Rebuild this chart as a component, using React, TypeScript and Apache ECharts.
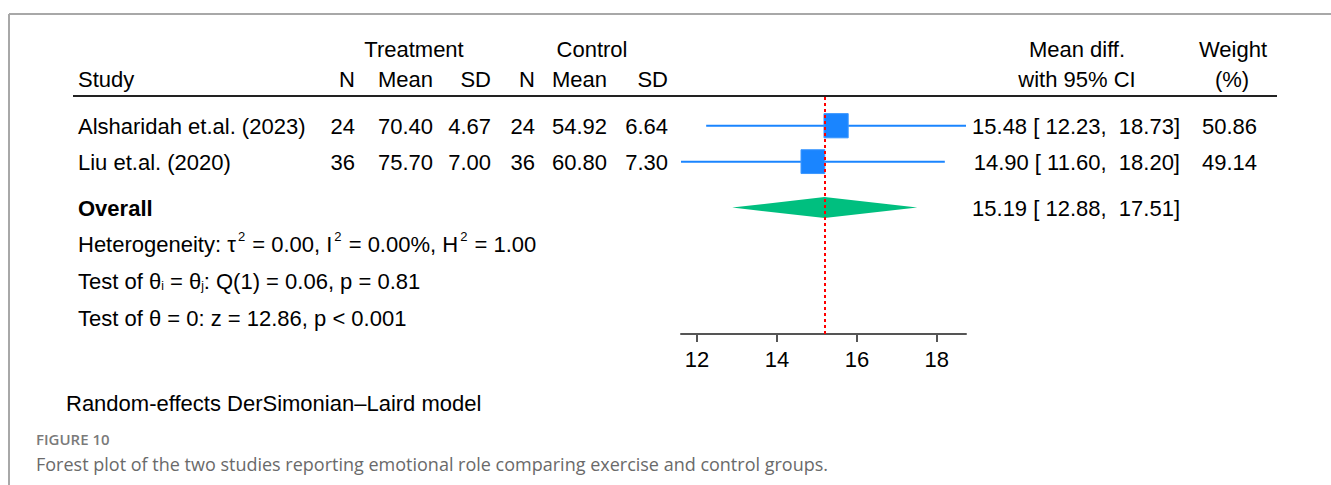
import { useEffect, useRef } from "react";
import * as echarts from "echarts";

// ---- study-level data ----
const studyNames = ["Alsharidah et.al. (2023)", "Liu et.al. (2020)"];
const treatN = [24, 36];
const treatMean = [70.4, 75.7];
const treatSD = [4.67, 7.0];
const ctrlN = [24, 36];
const ctrlMean = [54.92, 60.8];
const ctrlSD = [6.64, 7.3];
const meanDiff = [15.48, 14.9];
const ciLow = [12.23, 11.6];
const ciHigh = [18.73, 18.2];
const weights = [50.86, 49.14];

// ---- pooled estimate ----
const overallEst = 15.19;
const overallLow = 12.88;
const overallHigh = 17.51;

// ---- axis ticks ----
const xTicks = [12, 14, 16, 18];

// ---- text blocks ----
const leftHeaderTop = ["Treatment", "Control"];
const leftHeaderCols = ["N", "Mean", "SD", "N", "Mean", "SD"];
const rightHeaderTop = ["Mean diff.", "Weight"];
const rightHeaderBottom = ["with 95% CI", "(%)"];
const modelNote = "Random-effects DerSimonian\u2013Laird model";
const figureLabel = "FIGURE 10";
const figureCaption =
  "Forest plot of the two studies reporting emotional role comparing exercise and control groups.";

// ---- layout ----
const FONT = "'Liberation Sans', Arial, Helvetica, sans-serif";
const CAPTION_FONT = "'Open Sans', 'Noto Sans', sans-serif";
const FS = 22;
const GRID_LEFT = 681;
const GRID_RIGHT_EDGE = 966;
const GRID_TOP = 97;
const GRID_BOTTOM_EDGE = 334;
const Y_MAX = 6.6; // rows spanned by the plot region
const ROW_PX = (GRID_BOTTOM_EDGE - GRID_TOP) / Y_MAX;
const studyRows = [0.8, 1.8];
const overallRow = 3.08;
const rowPx = (r: number) => GRID_TOP + r * ROW_PX;
const colRight = [355, 433, 491, 535, 607, 668];
const BOX = 24;
const BLUE = "#1a85ff";
const GREEN = "#00bf7f";

const f2 = (v: number) => v.toFixed(2);

function txt(text: string, x: number, y: number, align = "left", extra: any = {}) {
  return {
    type: "text",
    x,
    y,
    silent: true,
    style: {
      text,
      fontSize: FS,
      fontFamily: FONT,
      fill: "#000",
      align,
      verticalAlign: "middle",
      ...extra,
    },
  };
}

function buildGraphics() {
  const g: any[] = [];
  // frame
  g.push({ type: "line", shape: { x1: 9, y1: 14, x2: 1331, y2: 14 }, style: { stroke: "#a8a8a8", lineWidth: 2 } });
  g.push({ type: "line", shape: { x1: 9, y1: 14, x2: 9, y2: 485 }, style: { stroke: "#a8a8a8", lineWidth: 2 } });

  // headers
  g.push(txt(leftHeaderTop[0], 414, 49, "center"));
  g.push(txt(leftHeaderTop[1], 592, 49, "center"));
  g.push(txt("Study", 78, 79));
  leftHeaderCols.forEach((h, i) => g.push(txt(h, colRight[i], 79, "right")));
  g.push(txt(rightHeaderTop[0], 1077, 49, "center"));
  g.push(txt(rightHeaderBottom[0], 1077, 79, "center"));
  g.push(txt(rightHeaderTop[1], 1233, 49, "center"));
  g.push(txt(rightHeaderBottom[1], 1232, 79, "center"));
  g.push({ type: "line", shape: { x1: 73, y1: 96, x2: 1277, y2: 96 }, style: { stroke: "#222", lineWidth: 2 } });

  // study rows
  studyNames.forEach((name, i) => {
    const y = rowPx(studyRows[i]) + 1;
    g.push(txt(name, 78, y));
    const cells = [
      String(treatN[i]),
      f2(treatMean[i]),
      f2(treatSD[i]),
      String(ctrlN[i]),
      f2(ctrlMean[i]),
      f2(ctrlSD[i]),
    ];
    cells.forEach((c, j) => g.push(txt(c, colRight[j], y, "right")));
    g.push(txt(`${f2(meanDiff[i])} [ ${f2(ciLow[i])},  ${f2(ciHigh[i])}]`, 1180, y, "right"));
    g.push(txt(f2(weights[i]), 1257, y, "right"));
  });

  // overall row
  const oy = rowPx(overallRow) + 1;
  g.push(txt("Overall", 78, oy, "left", { fontWeight: "bold" }));
  g.push(txt(`${f2(overallEst)} [ ${f2(overallLow)},  ${f2(overallHigh)}]`, 1180, oy, "right"));

  // heterogeneity statistics
  g.push(
    txt("Heterogeneity: \u03c4{s|2} = 0.00, I{s|2} = 0.00%, H{s|2} = 1.00", 78, 244, "left", {
      lineHeight: 28,
      rich: {
        s: { fontSize: 13, fontFamily: FONT, fill: "#000", verticalAlign: "top", lineHeight: 14, padding: [0, 1, 0, 2] },
      },
    })
  );
  g.push(
    txt("Test of \u03b8{i|i} = \u03b8{i|j}: Q(1) = 0.06, p = 0.81", 78, 281, "left", {
      rich: { i: { fontSize: 12, fontFamily: FONT, fill: "#000", verticalAlign: "bottom" } },
    })
  );
  g.push(txt("Test of \u03b8 = 0: z = 12.86, p < 0.001", 78, 318));

  // notes and caption
  g.push(txt(modelNote, 66, 403));
  g.push(
    txt(figureLabel, 36, 439, "left", {
      fontSize: 15,
      fontWeight: 600,
      fontFamily: CAPTION_FONT,
      fill: "#7a7a7a",
    })
  );
  g.push(
    txt(figureCaption, 36, 464, "left", {
      fontSize: 18,
      fontFamily: CAPTION_FONT,
      fill: "#6a6a6a",
    })
  );
  return g;
}

function buildOption(): any {
  const xMin = Math.min(...ciLow, overallLow);
  const xMax = Math.max(...ciHigh, overallHigh);
  const studyData = meanDiff.map((m, i) => [m, ciLow[i], ciHigh[i], weights[i], studyRows[i]]);

  return {
    animation: false,
    backgroundColor: "#fff",
    grid: {
      left: GRID_LEFT,
      top: GRID_TOP,
      width: GRID_RIGHT_EDGE - GRID_LEFT,
      height: GRID_BOTTOM_EDGE - GRID_TOP,
      containLabel: false,
    },
    xAxis: {
      type: "value",
      position: "bottom",
      min: xMin,
      max: xMax,
      splitLine: { show: false },
      axisLine: { show: true, onZero: false, lineStyle: { color: "#555", width: 2 } },
      axisTick: {
        show: true,
        customValues: xTicks,
        length: 8,
        lineStyle: { color: "#555", width: 2 },
      },
      axisLabel: {
        customValues: xTicks,
        fontSize: FS,
        fontFamily: FONT,
        color: "#000",
        margin: 14,
      },
    },
    yAxis: {
      type: "value",
      inverse: true,
      min: 0,
      max: Y_MAX,
      show: false,
      splitLine: { show: false },
    },
    series: [
      {
        type: "custom",
        name: "studies",
        data: studyData,
        z: 2,
        renderItem: (_p: any, api: any) => {
          const y = api.value(4);
          const pe = api.coord([api.value(0), y]);
          const pl = api.coord([api.value(1), y]);
          const ph = api.coord([api.value(2), y]);
          const s = BOX * Math.sqrt(api.value(3) / 50);
          return {
            type: "group",
            children: [
              {
                type: "line",
                shape: { x1: pl[0], y1: pl[1], x2: ph[0], y2: ph[1] },
                style: { stroke: BLUE, lineWidth: 2 },
              },
              {
                type: "rect",
                shape: { x: pe[0] - s / 2, y: pe[1] - s / 2, width: s, height: s },
                style: { fill: BLUE, stroke: "#3c97ff", lineWidth: 1 },
              },
            ],
          };
        },
      },
      {
        type: "custom",
        name: "overall",
        data: [[overallEst, overallLow, overallHigh, overallRow]],
        z: 2,
        renderItem: (_p: any, api: any) => {
          const y = api.value(3);
          const pe = api.coord([api.value(0), y]);
          const pl = api.coord([api.value(1), y]);
          const ph = api.coord([api.value(2), y]);
          const h = 10.5;
          return {
            type: "polygon",
            shape: {
              points: [
                [pl[0], pl[1]],
                [pe[0], pe[1] - h],
                [ph[0], ph[1]],
                [pe[0], pe[1] + h],
              ],
            },
            style: { fill: GREEN },
          };
        },
        markLine: {
          silent: true,
          symbol: "none",
          z: 5,
          label: { show: false },
          lineStyle: { color: "#ff0000", width: 2, type: [3, 3] },
          data: [{ xAxis: overallEst }],
        },
      },
    ],
    graphic: buildGraphics(),
  };
}

export default function App() {
  const ref = useRef<HTMLDivElement>(null);
  useEffect(() => {
    if (!ref.current) return;
    const chart = echarts.init(ref.current, null, { renderer: "svg" });
    chart.setOption(buildOption());
    return () => chart.dispose();
  }, []);
  return (
    <div
      ref={ref}
      style={{ position: "fixed", left: 0, top: 0, width: 1331, height: 485, background: "#fff" }}
    />
  );
}
